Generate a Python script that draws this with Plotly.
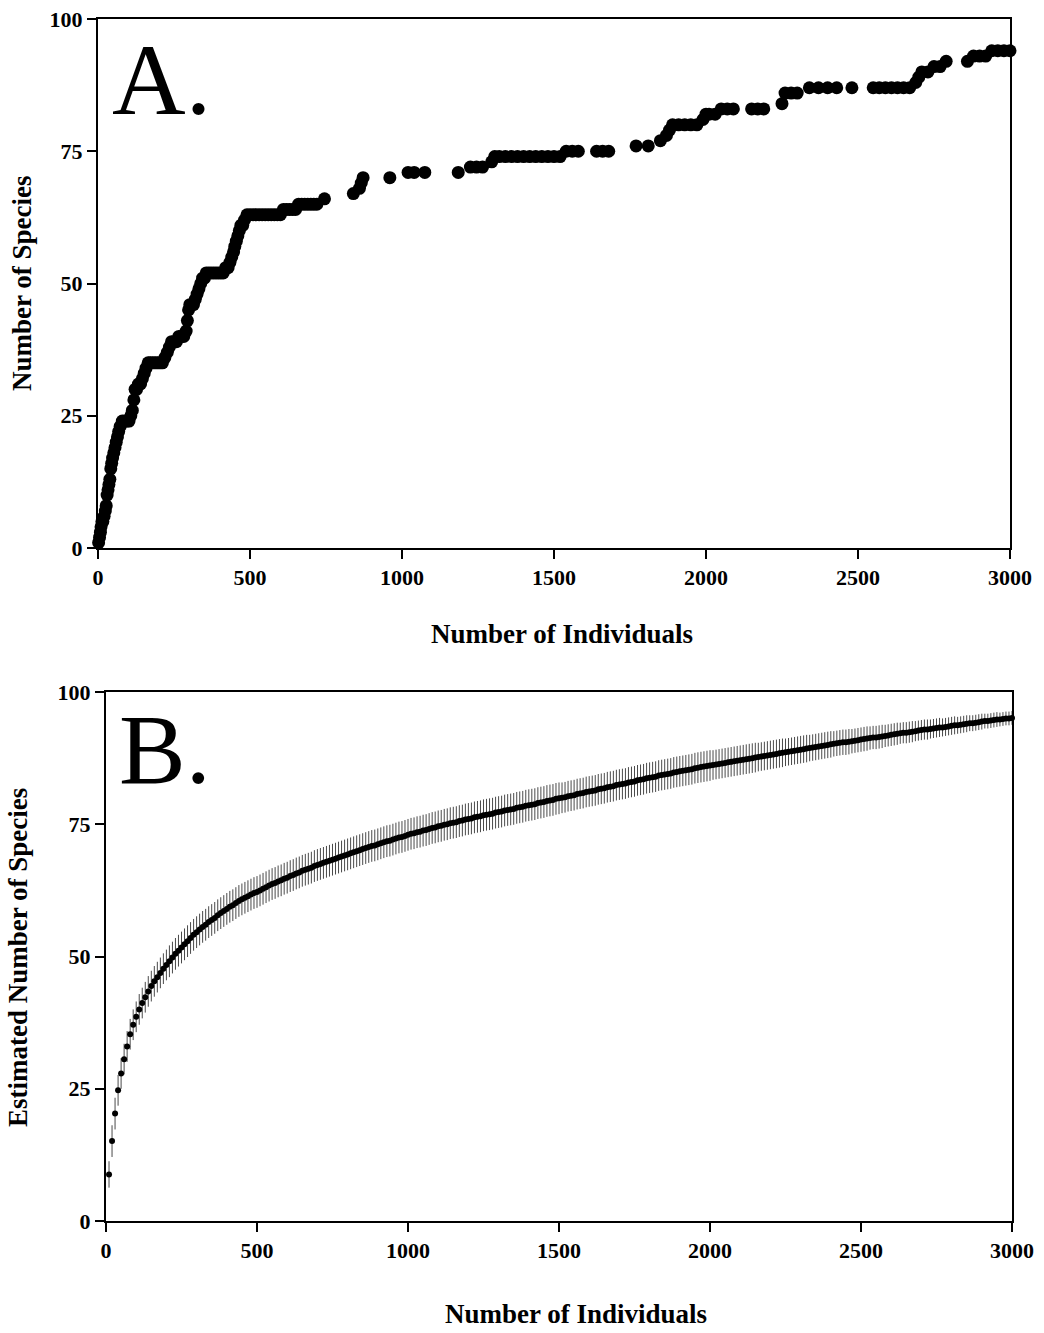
import plotly.graph_objects as go

# ---------------- Panel A: observed species accumulation ----------------
a_individuals = [2, 5, 8, 10, 13, 16, 20, 24, 27, 30, 33, 36, 39, 42, 45, 48, 52, 56, 60, 64,
                 68, 73, 80, 88, 95, 102, 108, 113, 118, 122, 127, 133, 140, 146, 152, 158, 165, 172, 180, 188,
                 196, 204, 212, 220, 228, 235, 242, 250, 258, 266, 274, 282, 290, 294, 298, 302, 308, 314, 320, 326,
                 332, 338, 344, 350, 356, 364, 372, 380, 388, 396, 404, 412, 420, 428, 434, 440, 446, 450, 455, 460,
                 465, 470, 476, 482, 490, 500, 510, 520, 530, 540, 550, 560, 570, 580, 590, 600, 610, 620, 630, 640,
                 650, 660, 670, 680, 690, 700, 710, 720, 745, 840, 860, 866, 872, 960, 1020, 1040, 1075, 1185, 1225, 1245,
                 1265, 1295, 1305, 1320, 1340, 1360, 1380, 1400, 1420, 1440, 1460, 1480, 1500, 1520, 1540, 1560, 1580, 1640, 1660, 1680,
                 1770, 1810, 1850, 1870, 1880, 1890, 1910, 1930, 1950, 1970, 1990, 2000, 2010, 2030, 2050, 2070, 2090, 2150, 2170, 2190,
                 2250, 2260, 2280, 2300, 2340, 2370, 2400, 2430, 2480, 2550, 2570, 2590, 2610, 2630, 2650, 2670, 2690, 2700, 2710, 2730,
                 2750, 2770, 2790, 2860, 2880, 2900, 2920, 2940, 2960, 2980, 3000]
a_species = [1, 2, 3, 4, 5, 5, 6, 7, 8, 10, 11, 12, 13, 15, 16, 17, 18, 19, 20, 21,
             22, 23, 24, 24, 24, 24, 25, 26, 28, 30, 30, 31, 31, 32, 33, 34, 35, 35, 35, 35,
             35, 35, 35, 36, 37, 38, 39, 39, 39, 40, 40, 40, 41, 43, 45, 46, 46, 46, 47, 48,
             49, 50, 51, 51, 52, 52, 52, 52, 52, 52, 52, 52, 53, 53, 54, 55, 56, 57, 58, 59,
             60, 61, 61, 62, 63, 63, 63, 63, 63, 63, 63, 63, 63, 63, 63, 63, 64, 64, 64, 64,
             64, 65, 65, 65, 65, 65, 65, 65, 66, 67, 68, 69, 70, 70, 71, 71, 71, 71, 72, 72,
             72, 73, 74, 74, 74, 74, 74, 74, 74, 74, 74, 74, 74, 74, 75, 75, 75, 75, 75, 75,
             76, 76, 77, 78, 79, 80, 80, 80, 80, 80, 81, 82, 82, 82, 83, 83, 83, 83, 83, 83,
             84, 86, 86, 86, 87, 87, 87, 87, 87, 87, 87, 87, 87, 87, 87, 87, 88, 89, 90, 90,
             91, 91, 92, 92, 93, 93, 93, 94, 94, 94, 94]

# ---------------- Panel B: rarefaction estimate with error bars ----------------
b_individuals = list(range(10, 3001, 10))
b_species = [
    8.8, 15.1, 20.3, 24.7, 27.9, 30.6, 33.0, 35.3, 37.1, 38.6,
    40.0, 41.2, 42.3, 43.4, 44.4, 45.3, 46.1, 46.9, 47.7, 48.4,
    49.1, 49.8, 50.5, 51.1, 51.7, 52.3, 52.9, 53.5, 54.1, 54.6,
    55.1, 55.6, 56.0, 56.5, 56.9, 57.3, 57.8, 58.2, 58.6, 59.0,
    59.4, 59.7, 60.1, 60.5, 60.8, 61.1, 61.4, 61.7, 62.0, 62.2,
    62.5, 62.8, 63.1, 63.4, 63.7, 63.9, 64.2, 64.4, 64.7, 64.9,
    65.2, 65.4, 65.7, 65.9, 66.2, 66.4, 66.6, 66.8, 67.1, 67.3,
    67.5, 67.7, 67.9, 68.1, 68.3, 68.5, 68.7, 68.9, 69.1, 69.3,
    69.5, 69.7, 69.9, 70.1, 70.3, 70.5, 70.7, 70.9, 71.0, 71.2,
    71.4, 71.6, 71.8, 71.9, 72.1, 72.3, 72.5, 72.6, 72.8, 73.0,
    73.2, 73.3, 73.5, 73.6, 73.8, 73.9, 74.1, 74.3, 74.4, 74.6,
    74.7, 74.9, 75.0, 75.2, 75.3, 75.4, 75.6, 75.7, 75.9, 76.0,
    76.1, 76.3, 76.4, 76.5, 76.7, 76.8, 76.9, 77.0, 77.2, 77.3,
    77.4, 77.6, 77.7, 77.8, 77.9, 78.1, 78.2, 78.3, 78.5, 78.6,
    78.7, 78.8, 79.0, 79.1, 79.2, 79.4, 79.5, 79.6, 79.8, 79.9,
    80.0, 80.1, 80.3, 80.4, 80.5, 80.7, 80.8, 80.9, 81.1, 81.2,
    81.3, 81.4, 81.6, 81.7, 81.8, 82.0, 82.1, 82.2, 82.4, 82.5,
    82.6, 82.7, 82.9, 83.0, 83.1, 83.3, 83.4, 83.5, 83.7, 83.8,
    83.9, 84.0, 84.2, 84.3, 84.4, 84.5, 84.6, 84.8, 84.9, 85.0,
    85.1, 85.2, 85.3, 85.4, 85.6, 85.7, 85.8, 85.9, 86.0, 86.1,
    86.2, 86.3, 86.4, 86.5, 86.6, 86.7, 86.8, 86.9, 87.0, 87.1,
    87.2, 87.3, 87.4, 87.5, 87.6, 87.7, 87.8, 87.9, 88.0, 88.1,
    88.2, 88.3, 88.4, 88.5, 88.6, 88.7, 88.8, 88.9, 89.0, 89.1,
    89.2, 89.3, 89.4, 89.5, 89.6, 89.7, 89.8, 89.9, 90.0, 90.1,
    90.2, 90.3, 90.4, 90.5, 90.5, 90.6, 90.7, 90.8, 90.9, 91.0,
    91.1, 91.2, 91.3, 91.4, 91.4, 91.5, 91.6, 91.7, 91.8, 91.9,
    92.0, 92.1, 92.2, 92.3, 92.3, 92.4, 92.5, 92.6, 92.7, 92.8,
    92.9, 92.9, 93.0, 93.1, 93.2, 93.3, 93.3, 93.4, 93.5, 93.6,
    93.7, 93.7, 93.8, 93.9, 94.0, 94.1, 94.1, 94.2, 94.3, 94.4,
    94.5, 94.5, 94.6, 94.7, 94.8, 94.8, 94.9, 95.0, 95.0, 95.1,
]
b_error = [
    2.5, 3.0, 3.0, 2.9, 2.9, 2.9, 2.9, 2.9, 2.9, 2.9,
    2.9, 2.9, 2.9, 2.9, 2.9, 2.9, 2.9, 2.9, 2.9, 2.9,
    3.0, 3.0, 3.0, 3.0, 3.0, 3.0, 3.0, 3.0, 3.0, 3.0,
    3.0, 3.0, 3.0, 3.0, 3.0, 3.0, 3.0, 3.0, 3.0, 3.0,
    3.0, 3.0, 3.0, 3.0, 3.0, 3.0, 3.0, 3.0, 3.0, 3.0,
    3.0, 3.0, 3.0, 3.0, 3.0, 3.0, 3.0, 3.0, 3.0, 3.0,
    3.0, 3.0, 3.0, 3.0, 3.0, 3.0, 3.0, 3.0, 3.0, 3.0,
    3.0, 3.0, 3.0, 3.0, 3.0, 3.0, 3.0, 3.0, 3.0, 3.0,
    3.0, 3.0, 3.0, 3.0, 3.0, 3.0, 3.0, 3.0, 3.0, 3.0,
    3.0, 3.0, 3.0, 3.0, 3.0, 3.0, 3.0, 3.0, 3.0, 3.0,
    3.0, 3.0, 3.0, 3.0, 3.0, 3.0, 3.0, 3.0, 3.0, 3.0,
    3.0, 3.0, 3.0, 3.0, 3.0, 3.0, 3.0, 3.0, 3.0, 3.0,
    3.0, 3.0, 3.0, 3.0, 3.0, 3.0, 3.0, 3.0, 3.0, 3.0,
    3.0, 3.0, 3.0, 3.0, 3.0, 3.0, 3.0, 3.0, 3.0, 3.0,
    3.0, 3.0, 3.0, 3.0, 3.0, 3.0, 3.0, 3.0, 3.0, 3.0,
    2.9, 2.9, 2.9, 2.9, 2.9, 2.9, 2.9, 2.9, 2.9, 2.9,
    2.9, 2.9, 2.9, 2.9, 2.9, 2.9, 2.9, 2.9, 2.9, 2.9,
    2.9, 2.9, 2.9, 2.9, 2.9, 2.9, 2.9, 2.9, 2.9, 2.9,
    2.9, 2.9, 2.9, 2.9, 2.9, 2.9, 2.9, 2.9, 2.9, 2.9,
    2.9, 2.9, 2.9, 2.9, 2.9, 2.9, 2.9, 2.9, 2.9, 2.9,
    2.8, 2.8, 2.8, 2.8, 2.8, 2.8, 2.8, 2.8, 2.8, 2.8,
    2.8, 2.8, 2.8, 2.8, 2.8, 2.7, 2.7, 2.7, 2.7, 2.7,
    2.7, 2.7, 2.7, 2.7, 2.6, 2.6, 2.6, 2.6, 2.6, 2.6,
    2.6, 2.6, 2.5, 2.5, 2.5, 2.5, 2.5, 2.5, 2.5, 2.5,
    2.4, 2.4, 2.4, 2.4, 2.4, 2.4, 2.3, 2.3, 2.3, 2.3,
    2.3, 2.3, 2.2, 2.2, 2.2, 2.2, 2.2, 2.1, 2.1, 2.1,
    2.1, 2.1, 2.0, 2.0, 2.0, 2.0, 2.0, 1.9, 1.9, 1.9,
    1.9, 1.9, 1.8, 1.8, 1.8, 1.8, 1.7, 1.7, 1.7, 1.7,
    1.7, 1.6, 1.6, 1.6, 1.6, 1.5, 1.5, 1.5, 1.5, 1.5,
    1.4, 1.4, 1.4, 1.4, 1.4, 1.3, 1.3, 1.3, 1.3, 1.3,
]

x_ticks = [0, 500, 1000, 1500, 2000, 2500, 3000]
y_ticks = [0, 25, 50, 75, 100]
x_title = "Number of Individuals"
y_title_a = "Number of Species"
y_title_b = "Estimated Number of Species"

W, H = 1044, 1333
SERIF = "Liberation Serif, Times New Roman, serif"


def px_x(p):
    return p / W


def px_y(p):
    return 1 - p / H


fig = go.Figure()

fig.add_trace(go.Scatter(
    x=a_individuals, y=a_species, mode="markers",
    marker=dict(size=13, color="black", line=dict(width=0)),
    cliponaxis=False, xaxis="x", yaxis="y", showlegend=False,
))

fig.add_trace(go.Scatter(
    x=b_individuals, y=b_species, mode="markers",
    marker=dict(size=6, color="black", line=dict(width=0)),
    error_y=dict(type="data", array=b_error, visible=True, color="#4a4a4a",
                 thickness=1, width=0),
    cliponaxis=False, xaxis="x2", yaxis="y2", showlegend=False,
))

tickfont = dict(family=SERIF, size=22, color="black", weight="bold")
axis_common = dict(
    showline=True, linewidth=2, linecolor="black", mirror=True,
    ticks="outside", ticklen=9, tickwidth=2, tickcolor="black",
    showgrid=False, zeroline=False, tickfont=tickfont, fixedrange=True,
    automargin=False,
)

fig.update_layout(
    template="none",
    width=W, height=H,
    margin=dict(l=0, r=0, t=0, b=0, autoexpand=False),
    paper_bgcolor="white", plot_bgcolor="white",
    xaxis=dict(domain=[px_x(98), px_x(1010)], range=[0, 3000], tickvals=x_ticks,
               anchor="y", **axis_common),
    yaxis=dict(domain=[px_y(548), px_y(19)], range=[0, 100], tickvals=y_ticks,
               anchor="x", **axis_common),
    xaxis2=dict(domain=[px_x(106), px_x(1012)], range=[0, 3000], tickvals=x_ticks,
                anchor="y2", **axis_common),
    yaxis2=dict(domain=[px_y(1221), px_y(692)], range=[0, 100], tickvals=y_ticks,
                anchor="x2", **axis_common),
)

title_font = dict(family=SERIF, size=27, color="black", weight="bold")
ann = [
    dict(text=x_title, x=px_x(562), y=px_y(634), font=title_font,
         xanchor="center", yanchor="middle"),
    dict(text=x_title, x=px_x(576), y=px_y(1314), font=title_font,
         xanchor="center", yanchor="middle"),
    dict(text=y_title_a, x=px_x(22), y=px_y(283), font=title_font, textangle=-90,
         xanchor="center", yanchor="middle"),
    dict(text=y_title_b, x=px_x(18), y=px_y(958), font=title_font, textangle=-90,
         xanchor="center", yanchor="middle"),
    dict(text="A.", x=px_x(110), y=px_y(80), font=dict(family=SERIF, size=102, color="black"),
         xanchor="left", yanchor="middle"),
    dict(text="B.", x=px_x(117), y=px_y(750), font=dict(family=SERIF, size=100, color="black"),
         xanchor="left", yanchor="middle"),
]
for a in ann:
    a.update(xref="paper", yref="paper", showarrow=False)
fig.update_layout(annotations=ann)

fig.write_html("out.html")
